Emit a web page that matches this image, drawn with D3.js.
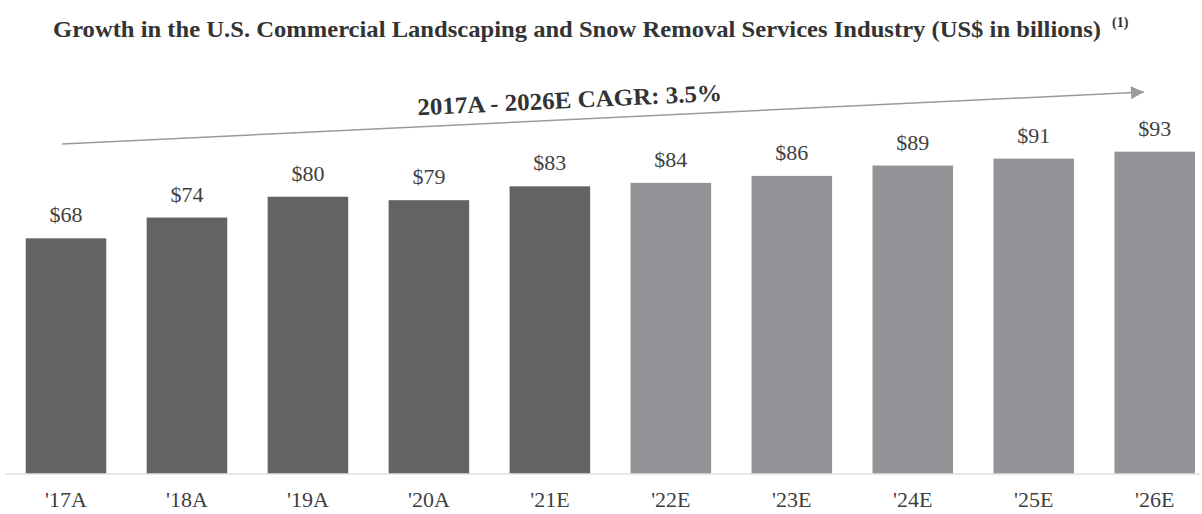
<!DOCTYPE html>
<html>
<head>
  <title>U.S. Commercial Landscaping and Snow Removal Services Industry</title>
  <script src="https://d3js.org/d3.v7.min.js"></script>
  <style>
    body { margin: 0; background: #fff; }
  </style>
</head>
<body>
  <div id="chart"></div>
  <script>
    const years = ["'17A", "'18A", "'19A", "'20A", "'21E", "'22E", "'23E", "'24E", "'25E", "'26E"];
    const values = [68, 74, 80, 79, 83, 84, 86, 89, 91, 93];
    const groups = ["hist", "hist", "hist", "hist", "hist", "proj", "proj", "proj", "proj", "proj"];
    const cagrLabel = "2017A - 2026E CAGR: 3.5%";

    const width = 1202, height = 514;
    const baseY = 474;
    const serif = "Liberation Serif, Times New Roman, serif";

    const svg = d3.select("#chart").append("svg")
      .attr("width", width)
      .attr("height", height);

    const x = d3.scaleBand()
      .domain(years)
      .range([25.7, 1195])
      .paddingInner(0.334)
      .paddingOuter(0);

    const y = d3.scaleLinear()
      .domain([0, 100])
      .range([baseY, baseY - 346.6]);

    const color = d3.scaleOrdinal()
      .domain(["hist", "proj"])
      .range(["#636365", "#939497"]);

    // title
    const title = svg.append("text")
      .attr("x", 53)
      .attr("y", 37)
      .attr("font-family", serif)
      .attr("font-weight", "bold")
      .attr("font-size", 23)
      .attr("fill", "#333");
    title.append("tspan")
      .attr("textLength", 1048)
      .attr("lengthAdjust", "spacingAndGlyphs")
      .text("Growth in the U.S. Commercial Landscaping and Snow Removal Services Industry (US$ in billions)");
    title.append("tspan")
      .attr("x", 1112)
      .attr("font-size", 14)
      .attr("dy", -10)
      .text("(1)");

    // bars
    svg.selectAll("rect.bar")
      .data(values)
      .join("rect")
      .attr("class", "bar")
      .attr("x", (d, i) => x(years[i]))
      .attr("y", d => y(d))
      .attr("width", x.bandwidth())
      .attr("height", d => y(0) - y(d))
      .attr("fill", (d, i) => color(groups[i]));

    // value labels
    svg.selectAll("text.val")
      .data(values)
      .join("text")
      .attr("class", "val")
      .attr("x", (d, i) => x(years[i]) + x.bandwidth() / 2)
      .attr("y", d => y(d) - 16)
      .attr("text-anchor", "middle")
      .attr("font-family", serif)
      .attr("font-size", 22)
      .attr("fill", "#404040")
      .text(d => "$" + d);

    // baseline
    svg.append("line")
      .attr("x1", 5).attr("x2", 1200)
      .attr("y1", baseY).attr("y2", baseY)
      .attr("stroke", "#e0e0e0")
      .attr("stroke-width", 1.5);

    // category axis
    const axis = svg.append("g")
      .attr("transform", `translate(0,${baseY})`)
      .call(d3.axisBottom(x).tickSize(0).tickPadding(0));
    axis.select(".domain").remove();
    axis.selectAll("text")
      .attr("dy", 0)
      .attr("y", 33)
      .attr("font-family", serif)
      .attr("font-size", 22)
      .attr("fill", "#404040");

    // CAGR arrow
    const ax1 = 62, ay1 = 144, ax2 = 1144, ay2 = 92;
    const ang = Math.atan2(ay2 - ay1, ax2 - ax1);
    svg.append("defs").append("marker")
      .attr("id", "arrow")
      .attr("viewBox", "0 0 10 10")
      .attr("refX", 10).attr("refY", 5)
      .attr("markerUnits", "userSpaceOnUse")
      .attr("markerWidth", 14).attr("markerHeight", 13)
      .attr("orient", "auto")
      .append("path")
      .attr("d", "M0,0L10,5L0,10Z")
      .attr("fill", "#9a9a9c");
    svg.append("line")
      .attr("x1", ax1).attr("y1", ay1)
      .attr("x2", ax2).attr("y2", ay2)
      .attr("stroke", "#9a9a9c")
      .attr("stroke-width", 1.5)
      .attr("marker-end", "url(#arrow)");

    svg.append("text")
      .attr("transform", `translate(570,108) rotate(${ang * 180 / Math.PI})`)
      .attr("text-anchor", "middle")
      .attr("font-family", serif)
      .attr("font-weight", "bold")
      .attr("font-size", 24)
      .attr("textLength", 305)
      .attr("lengthAdjust", "spacingAndGlyphs")
      .attr("fill", "#333")
      .text(cagrLabel);
  </script>
</body>
</html>
